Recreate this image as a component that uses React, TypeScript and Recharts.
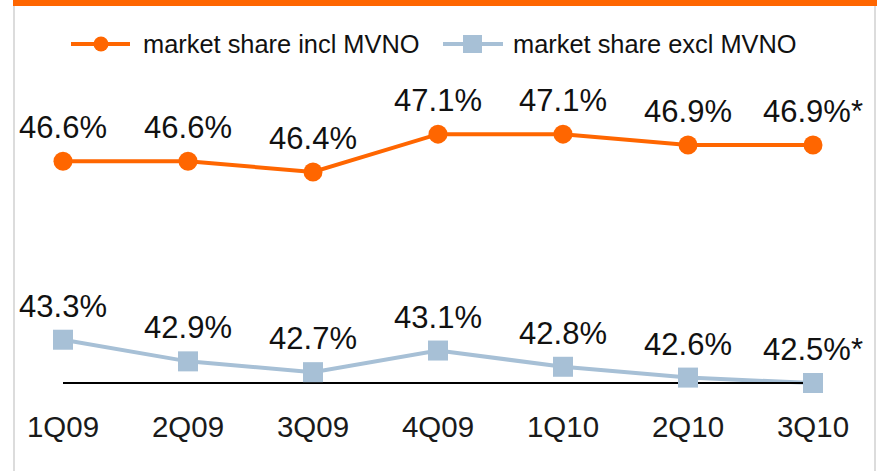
import React from "react";
import { LineChart, Line, XAxis, YAxis } from "recharts";

const categories = ["1Q09", "2Q09", "3Q09", "4Q09", "1Q10", "2Q10", "3Q10"];
const inclMVNO = [46.6, 46.6, 46.4, 47.1, 47.1, 46.9, 46.9];
const exclMVNO = [43.3, 42.9, 42.7, 43.1, 42.8, 42.6, 42.5];
const labelSuffix = ["", "", "", "", "", "", "*"];
const seriesNames = ["market share incl MVNO", "market share excl MVNO"];

const ORANGE = "#FF6600";
const BLUE = "#A7C0D6";
const FONT = "'Liberation Sans', Arial, Helvetica, sans-serif";

const data = categories.map((c, i) => ({
  cat: c,
  incl: inclMVNO[i],
  excl: exclMVNO[i],
}));

const ValueLabel = (props: any) => {
  const { x, y, value, index } = props;
  return (
    <text
      x={x}
      y={y - 23}
      textAnchor="middle"
      fontFamily={FONT}
      fontSize={31}
      fill="#111"
    >
      {value.toFixed(1) + "%" + labelSuffix[index]}
    </text>
  );
};

const Tick = (props: any) => {
  const { x, y, payload } = props;
  return (
    <text
      x={x}
      y={y + 54}
      textAnchor="middle"
      fontFamily={FONT}
      fontSize={29.5}
      fill="#1a1a1a"
    >
      {payload.value}
    </text>
  );
};

const SquareDot = (props: any) => {
  const { cx, cy } = props;
  return <rect x={cx - 10} y={cy - 10} width={20} height={20} fill={BLUE} />;
};

const CircleDot = (props: any) => {
  const { cx, cy } = props;
  return <circle cx={cx} cy={cy} r={9.5} fill={ORANGE} />;
};

export default function App() {
  return (
    <div
      style={{
        position: "absolute",
        left: 0,
        top: 0,
        width: 877,
        height: 471,
        background: "#fff",
        overflow: "hidden",
      }}
    >
      <div
        style={{
          position: "absolute",
          left: 13,
          top: 0,
          width: 864,
          height: 6,
          background: ORANGE,
        }}
      />
      <div
        style={{
          position: "absolute",
          left: 13,
          top: 6,
          width: 2,
          height: 465,
          background: "#DCDCDC",
        }}
      />
      <div
        style={{
          position: "absolute",
          left: 874,
          top: 6,
          width: 2,
          height: 465,
          background: "#DCDCDC",
        }}
      />
      <svg
        style={{ position: "absolute", left: 0, top: 0 }}
        width={877}
        height={80}
      >
        <line x1={71} x2={130} y1={44} y2={44} stroke={ORANGE} strokeWidth={4} />
        <circle cx={101} cy={44} r={7.5} fill={ORANGE} />
        <text x={143} y={53} fontFamily={FONT} fontSize={25.4} fill="#111">
          {seriesNames[0]}
        </text>
        <line x1={443} x2={503} y1={44} y2={44} stroke={BLUE} strokeWidth={4} />
        <rect x={463} y={35} width={19} height={18} fill={BLUE} />
        <text x={513} y={53} fontFamily={FONT} fontSize={25.4} fill="#111">
          {seriesNames[1]}
        </text>
      </svg>
      <div style={{ position: "absolute", left: 0, top: 0 }}>
        <LineChart
          width={877}
          height={471}
          data={data}
          margin={{ top: 112.5, right: 64, bottom: 0, left: 63 }}
        >
          <XAxis
            dataKey="cat"
            axisLine={{ stroke: "#000", strokeWidth: 2 }}
            tickLine={false}
            tickSize={0}
            tickMargin={0}
            tick={<Tick />}
            interval={0}
            height={88}
          />
          <YAxis hide domain={[42.5, 47.5]} type="number" />
          <Line
            dataKey="incl"
            stroke={ORANGE}
            strokeWidth={4}
            dot={<CircleDot />}
            activeDot={false}
            label={<ValueLabel />}
            isAnimationActive={false}
          />
          <Line
            dataKey="excl"
            stroke={BLUE}
            strokeWidth={4}
            dot={<SquareDot />}
            activeDot={false}
            label={<ValueLabel />}
            isAnimationActive={false}
          />
        </LineChart>
      </div>
    </div>
  );
}
